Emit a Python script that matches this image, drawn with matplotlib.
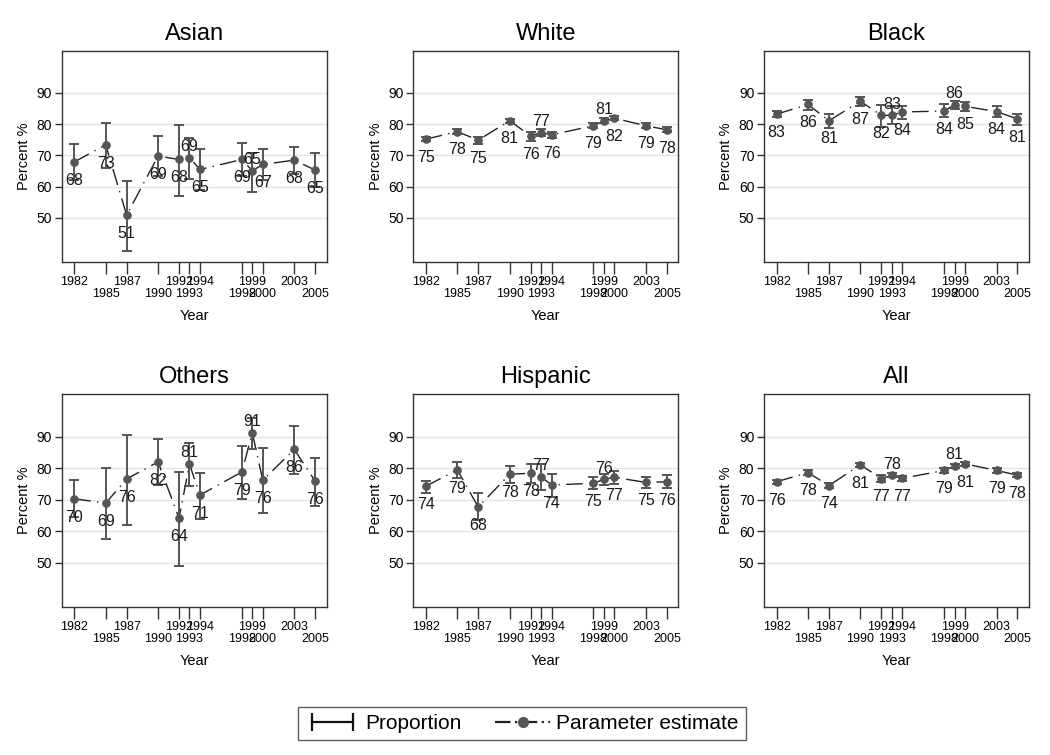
import matplotlib
matplotlib.use("Agg")
import matplotlib.pyplot as plt
from matplotlib.lines import Line2D
from matplotlib.legend_handler import HandlerLine2D

plt.rcParams["font.family"] = ["Liberation Sans", "DejaVu Sans"]

years = [1982, 1985, 1987, 1990, 1992, 1993, 1994, 1998, 1999, 2000, 2003, 2005]

asian_est = [67.9, 73.4, 50.9, 69.8, 68.7, 69.3, 65.5, 68.7, 65.1, 67.1, 68.5, 65.3]
asian_lo = [62.2, 66.1, 39.4, 63.3, 57.0, 62.3, 59.0, 63.3, 58.4, 62.0, 64.2, 59.8]
asian_hi = [73.6, 80.4, 61.9, 76.2, 79.7, 75.7, 71.9, 74.0, 70.8, 72.2, 72.7, 70.8]
asian_lab = [68, 73, 51, 69, 68, 69, 65, 69, 65, 67, 68, 65]

white_est = [75.2, 77.6, 74.9, 81.1, 76.2, 77.3, 76.6, 79.5, 81.1, 81.9, 79.5, 78.2]
white_lo = [74.5, 76.8, 73.8, 80.3, 74.7, 76.3, 75.7, 78.7, 80.3, 81.2, 78.7, 77.4]
white_hi = [75.9, 78.4, 75.9, 81.8, 77.6, 78.3, 77.5, 80.3, 81.9, 82.6, 80.3, 79.0]
white_lab = [75, 78, 75, 81, 76, 77, 76, 79, 81, 82, 79, 78]

black_est = [83.2, 86.3, 81.1, 87.3, 82.8, 82.8, 83.9, 84.2, 86.2, 85.7, 84.0, 81.7]
black_lo = [82.3, 84.6, 78.7, 85.9, 79.2, 80.1, 81.8, 82.3, 84.9, 84.2, 82.3, 79.7]
black_hi = [84.1, 87.6, 83.3, 88.7, 86.0, 85.7, 85.9, 86.3, 87.5, 87.1, 85.7, 83.4]
black_lab = [83, 86, 81, 87, 82, 83, 84, 84, 86, 85, 84, 81]

others_est = [70.3, 68.9, 76.6, 82.0, 64.1, 81.3, 71.5, 78.8, 91.2, 76.2, 86.0, 75.9]
others_lo = [64.4, 57.4, 61.9, 74.7, 49.0, 74.3, 64.0, 70.3, 86.2, 65.7, 78.3, 68.1]
others_hi = [76.2, 80.1, 90.5, 89.4, 78.8, 87.9, 78.6, 87.0, 96.0, 86.4, 93.4, 83.3]
others_lab = [70, 69, 76, 82, 64, 81, 71, 79, 91, 76, 86, 76]

hisp_est = [74.3, 79.5, 67.7, 78.1, 78.4, 77.3, 74.7, 75.2, 76.5, 77.1, 75.5, 75.7]
hisp_lo = [72.2, 77.0, 63.5, 75.2, 75.2, 73.1, 70.9, 73.4, 74.7, 74.9, 73.6, 73.6]
hisp_hi = [76.1, 81.9, 72.2, 80.7, 81.4, 81.4, 78.1, 77.1, 78.2, 79.1, 77.3, 77.9]
hisp_lab = [74, 79, 68, 78, 78, 77, 74, 75, 76, 77, 75, 76]

all_est = [75.7, 78.6, 74.5, 81.1, 76.7, 77.8, 76.8, 79.3, 80.7, 81.4, 79.3, 77.8]
all_lo = [75.0, 77.9, 73.7, 80.4, 75.7, 77.1, 76.0, 78.6, 80.0, 80.7, 78.6, 77.1]
all_hi = [76.4, 79.3, 75.3, 81.8, 77.7, 78.5, 77.6, 80.0, 81.4, 82.1, 80.0, 78.5]
all_lab = [76, 78, 74, 81, 77, 78, 77, 79, 81, 81, 79, 78]

panels = [
    ("Asian", asian_est, asian_lo, asian_hi, asian_lab),
    ("White", white_est, white_lo, white_hi, white_lab),
    ("Black", black_est, black_lo, black_hi, black_lab),
    ("Others", others_est, others_lo, others_hi, others_lab),
    ("Hispanic", hisp_est, hisp_lo, hisp_hi, hisp_lab),
    ("All", all_est, all_lo, all_hi, all_lab),
]

# years whose marker label sits above the point
label_above = [1993, 1999]

GRAY = "#555555"
DASH = (12, 4.5, 1, 4.5)
W, H = 1050, 755

fig = plt.figure(figsize=(10.5, 7.55), dpi=100)

lefts = [61.7, 413.3, 764.0]
rows = [(50.7, 261.7), (394.3, 606.7)]

for i, (name, est, lo, hi, lab) in enumerate(panels):
    top, bot = rows[i // 3]
    left = lefts[i % 3]
    ax = fig.add_axes([left / W, 1 - bot / H, 265 / W, (bot - top) / H])

    ax.plot(years, est, color="#222222", lw=1.0, dashes=DASH, zorder=2)
    yerr = [[e - l for e, l in zip(est, lo)], [h - e for e, h in zip(est, hi)]]
    ax.errorbar(years, est, yerr=yerr, fmt="none", ecolor=GRAY, elinewidth=1.4,
                capsize=3.6, capthick=1.4, zorder=3)
    ax.plot(years, est, "o", color=GRAY, ms=5.2, zorder=4)

    for x, y, t in zip(years, est, lab):
        dy = 4.8 if x in label_above else -16.4
        ax.annotate(str(t), (x, y), xytext=(0, dy), textcoords="offset points",
                    ha="center", va="baseline", fontsize=11.5, color="#1a1a1a", zorder=5)

    ax.set_xlim(1980.8, 2006.1)
    ax.set_ylim(36, 103.5)
    ax.set_yticks([50, 60, 70, 80, 90])
    ax.set_yticklabels(["50", "60", "70", "80", "90"], fontsize=10)
    ax.set_xticks(years)
    ax.set_xticklabels([str(y) if k % 2 == 0 else "\n" + str(y) for k, y in enumerate(years)],
                       fontsize=9, linespacing=1.0)
    ax.tick_params(axis="x", length=8.5, width=1, color="#333333", pad=2)
    ax.tick_params(axis="y", length=5, width=1, color="#333333", pad=2)
    ax.grid(axis="y", color="#e3e3e3", lw=1.0, zorder=0)
    ax.set_axisbelow(True)
    for s in ax.spines.values():
        s.set_color("#333333")
        s.set_linewidth(1.0)

    ax.set_title(name, fontsize=17, pad=8)
    ax.set_ylabel("Percent %", fontsize=10.5, labelpad=4)
    ax.set_xlabel("Year", fontsize=10.5, labelpad=6)

prop_handle = Line2D([], [], color="#111111", lw=1.6, marker="|", ms=13, mew=1.6)
est_handle = Line2D([], [], color="#222222", lw=1.6, dashes=(7, 2, 1, 2),
                    marker="o", ms=7, mfc=GRAY, mec=GRAY)
leg = fig.legend([prop_handle, est_handle], ["Proportion", "Parameter estimate"],
                 loc="center", bbox_to_anchor=(0.497, 0.0415), ncol=2, fontsize=15,
                 frameon=True, fancybox=False, edgecolor="#333333", handlelength=2.6,
                 columnspacing=1.6, borderpad=0.35, handletextpad=0.3,
                 handler_map={prop_handle: HandlerLine2D(numpoints=2)})
leg.get_frame().set_linewidth(1.0)

fig.savefig("out.png", dpi=100)
